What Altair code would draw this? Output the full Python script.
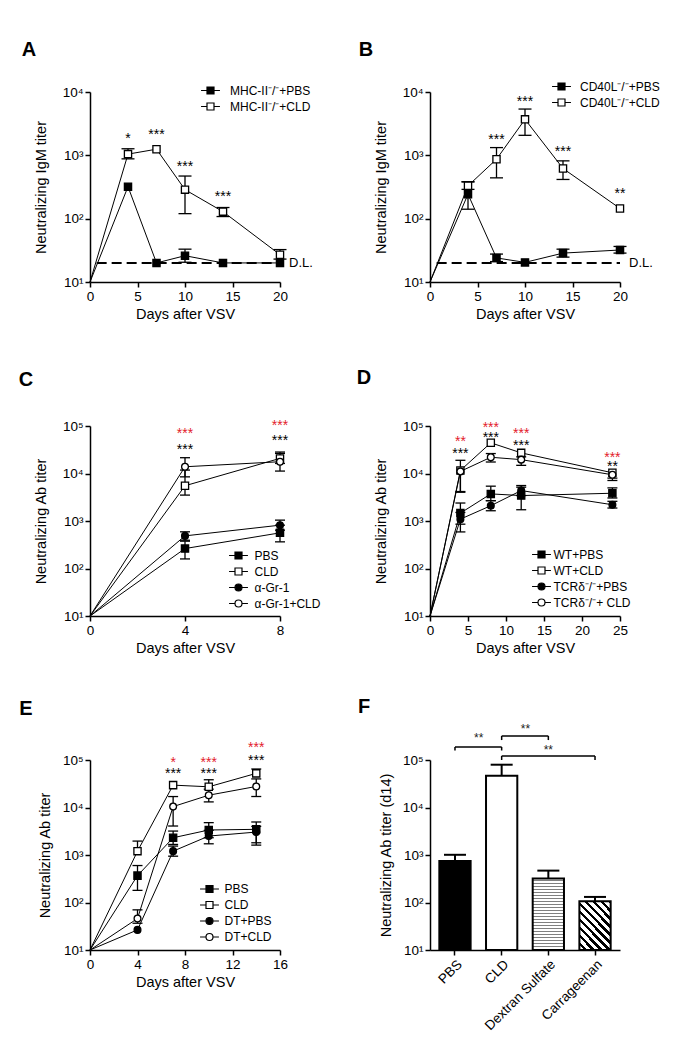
import altair as alt
import pandas as pd

FONT = "Liberation Sans"
RED = "#e3202c"
SQ_PATH = "M-2.7,0L-1,0M1,0L2.7,0M-1,-1L1,-1L1,1L-1,1Z"
CI_PATH = "M-2.7,0L-1,0M1,0L2.7,0M1,0A1,1,0,1,1,-1,0A1,1,0,1,1,1,0Z"
LBL = "'10' + ['⁰','¹','²','³','⁴','⁵','⁶'][round(log(datum.value)/LN10)]"

# ---------------- Panel A ----------------
A_days = [0, 4, 7, 10, 14, 20]
A_pbs = [10, 320, 20, 26, 20, 20]
A_pbs_hi = [None, None, None, 33, None, None]
A_pbs_lo = [None, None, None, 20.5, None, None]
A_cld = [10, 1045, 1250, 287, 129, 27]
A_cld_hi = [None, 1270, None, 471, 150, 32.5]
A_cld_lo = [None, 880, None, 120, 108, 23]
A_names = ["MHC-II⁻/⁻+PBS", "MHC-II⁻/⁻+CLD"]
A_star_day = [4, 7, 10, 14]
A_star_y = [2130, 2430, 745, 251]
A_star_txt = ["*", "***", "***", "***"]
A_star_col = ["black", "black", "black", "black"]

# ---------------- Panel B ----------------
B_days = [0, 4, 7, 10, 14, 20]
B_pbs = [10, 243, 24, 20.4, 28.6, 32]
B_pbs_hi = [None, 384, 27.6, None, 33, 36.4]
B_pbs_lo = [None, 141, 21, None, 24.7, 28.6]
B_cld = [10, 330, 869, 3700, 620, 145]
B_cld_hi = [None, 380, 1325, 5380, 818, None]
B_cld_lo = [None, 290, 441, 2070, 416, None]
B_names = ["CD40L⁻/⁻+PBS", "CD40L⁻/⁻+CLD"]
B_star_day = [7, 10, 14, 20]
B_star_y = [2023, 8110, 1309, 282]
B_star_txt = ["***", "***", "***", "**"]
B_star_col = ["black", "black", "black", "black"]

# ---------------- Panel C ----------------
C_days = [0, 4, 8]
C_pbs = [10, 263, 563]
C_pbs_hi = [None, 376, 817]
C_pbs_lo = [None, 159, 364]
C_cld = [10, 5520, 20800]
C_cld_hi = [None, 11800, 28300]
C_cld_lo = [None, 3510, 16300]
C_gr1 = [10, 486, 817]
C_gr1_hi = [None, 592, 1043]
C_gr1_lo = [None, 394, 641]
C_gr1cld = [10, 13870, 17700]
C_gr1cld_hi = [None, 21500, 26500]
C_gr1cld_lo = [None, 8500, 11250]
C_names = ["PBS", "CLD", "α-Gr-1", "α-Gr-1+CLD"]
C_star_day = [4, 4, 8, 8]
C_star_y = [82400, 37800, 123300, 57700]
C_star_txt = ["***", "***", "***", "***"]
C_star_col = [RED, "black", RED, "black"]

# ---------------- Panel D ----------------
D_days = [0, 4, 8, 12, 24]
D_wtpbs = [10, 1466, 3720, 3430, 3840]
D_wtpbs_hi = [None, 2390, 5410, 5150, 4980]
D_wtpbs_lo = [None, 589, 2680, 1726, 3050]
D_wtcld = [10, 11600, 44260, 27170, 10370]
D_wtcld_hi = [None, 18960, None, None, None]
D_wtcld_lo = [None, 4030, None, 22400, 8000]
D_tcrpbs = [10, 1094, 2100, 4375, 2200]
D_tcrpbs_hi = [None, 1514, 2680, 5580, 2596]
D_tcrpbs_lo = [None, 857, 1644, 3430, 1875]
D_tcrcld = [10, 11070, 21980, 19590, 9400]
D_tcrcld_hi = [None, None, 26300, None, None]
D_tcrcld_lo = [None, 4170, 17460, 14860, 7130]
D_names = ["WT+PBS", "WT+CLD", "TCRδ⁻/⁻+PBS", "TCRδ⁻/⁻+ CLD"]
D_star_day = [4, 4, 8, 8, 12, 12, 24, 24]
D_star_y = [54700, 31900, 110200, 66500, 82200, 46450, 26300, 16630]
D_star_txt = ["**", "***", "***", "***", "***", "***", "***", "**"]
D_star_col = [RED, "black", RED, "black", RED, "black", RED, "black"]

# ---------------- Panel E ----------------
E_days = [0, 4, 7, 10, 14]
E_pbs = [10, 368, 2307, 3360, 3470]
E_pbs_hi = [None, 600, 3190, 4800, 4955]
E_pbs_lo = [None, 180, 1667, 2310, 1808]
E_cld = [10, 1205, 29580, 27290, 52300]
E_cld_hi = [None, 1963, None, 38400, 64600]
E_cld_lo = [None, None, None, None, None]
E_dtpbs = [10, 26.5, 1205, 2506, 3040]
E_dtpbs_hi = [None, None, 1540, 3300, 4000]
E_dtpbs_lo = [None, None, 944, 1722, 1614]
E_dtcld = [10, 46, 10450, 18150, 27750]
E_dtcld_hi = [None, 70, 17000, 24300, 40000]
E_dtcld_lo = [None, 36.6, 4075, 13120, 17040]
E_names = ["PBS", "CLD", "DT+PBS", "DT+CLD"]
E_star_day = [7, 7, 10, 10, 14, 14]
E_star_y = [105000, 62400, 105000, 62400, 218000, 117500]
E_star_txt = ["*", "***", "***", "***", "***", "***"]
E_star_col = [RED, "black", RED, "black", RED, "black"]

# ---------------- Panel F ----------------
F_groups = ["PBS", "CLD", "Dextran Sulfate", "Carrageenan"]
F_vals = [752, 46450, 322, 106]
F_hi = [1010, 79600, 469, 131]
F_br_left = ["PBS", "CLD", "CLD"]
F_br_right = ["CLD", "Dextran Sulfate", "Carrageenan"]
F_br_top = [187900, 320000, 121300]
F_br_bot = [158500, 263000, 100000]
F_star_y = [335700, 520000, 188000]

KIND = {
    "fs": ("square", "black", SQ_PATH),
    "os": ("square", "white", SQ_PATH),
    "fc": ("circle", "black", CI_PATH),
    "oc": ("circle", "white", CI_PATH),
}


def letter_layer(letter, off):
    return alt.Chart(pd.DataFrame({"t": [letter]})).mark_text(
        font=FONT, fontSize=20, fontWeight="bold", align="center", baseline="middle", color="black"
    ).encode(text="t:N", x=alt.value(off[0]), y=alt.value(off[1]))


def line_panel(letter, loff, days, series, xdom, xvals, ydom, yvals, ytitle,
               leg, stars, cap=10, dl=False, tpad=14):
    rows = []
    for name, vals, hi, lo, kind in series:
        shp, fil, _ = KIND[kind]
        for d, v, h, l in zip(days, vals, hi, lo):
            rows.append({"series": name, "day": d, "val": v, "hi": h, "lo": l,
                         "shp": shp, "fil": fil, "sz": 52 if shp == "square" else 46})
    df = pd.DataFrame(rows)
    names = [s[0] for s in series]
    paths = [KIND[s[4]][2] for s in series]
    fills = [KIND[s[4]][1] for s in series]

    xs = alt.Scale(domain=xdom, nice=False, zero=False)
    ys = alt.Scale(type="log", domain=ydom, nice=False)
    xax = alt.Axis(values=xvals, title="Days after VSV", labelFlush=False, titlePadding=5)
    yax = alt.Axis(values=yvals, title=ytitle, labelExpr=LBL, labelFlush=False,
                   labelOverlap=False, titlePadding=tpad)

    def X(f="day"):
        return alt.X(f + ":Q", scale=xs, axis=xax)

    def Y(f):
        return alt.Y(f + ":Q", scale=ys, axis=yax)

    base = alt.Chart(df)
    lines = base.mark_line(color="black", strokeWidth=1).encode(
        x=X(), y=Y("val"), detail="series:N", order="day:Q")
    err = base.transform_filter("isValid(datum.hi) || isValid(datum.lo)").transform_calculate(
        hi2="isValid(datum.hi) ? datum.hi : datum.val",
        lo2="isValid(datum.lo) ? datum.lo : datum.val",
    ).mark_rule(color="black", strokeWidth=1.3).encode(x=X(), y=Y("lo2"), y2=alt.Y2("hi2:Q"))
    cap_hi = base.transform_filter("isValid(datum.hi)").mark_tick(
        orient="horizontal", size=cap, thickness=1.3, color="black", opacity=1).encode(x=X(), y=Y("hi"))
    cap_lo = base.transform_filter("isValid(datum.lo)").mark_tick(
        orient="horizontal", size=cap, thickness=1.3, color="black", opacity=1).encode(x=X(), y=Y("lo"))
    pts = base.transform_filter("datum.day > 0").mark_point(
        filled=True, stroke="black", strokeWidth=1.3, opacity=1).encode(
        x=X(), y=Y("val"),
        shape=alt.Shape("shp:N", scale=None),
        fill=alt.Fill("fil:N", scale=None),
        size=alt.Size("sz:Q", scale=None))
    LEG = alt.Legend(orient="none", legendX=leg[0], legendY=leg[1], title=None,
                     labelFont=FONT, labelFontSize=12, labelColor="black",
                     symbolSize=49, symbolStrokeColor="black", symbolStrokeWidth=1.2,
                     rowPadding=leg[3], padding=0, labelOffset=leg[2])
    legend = base.transform_filter("false").mark_point(
        filled=True, stroke="black", strokeWidth=1.2, opacity=1).encode(
        x=X(), y=Y("val"),
        shape=alt.Shape("series:N", scale=alt.Scale(domain=names, range=paths), legend=LEG),
        fill=alt.Fill("series:N", scale=alt.Scale(domain=names, range=fills), legend=LEG))
    sdf = pd.DataFrame({"day": stars[0], "y": stars[1], "t": stars[2], "col": stars[3]})
    st = alt.Chart(sdf).mark_text(font=FONT, fontSize=14, baseline="alphabetic", dy=8,
                                  align="center").encode(
        x=X(), y=Y("y"), text="t:N", color=alt.Color("col:N", scale=None))
    layers = [lines, err, cap_hi, cap_lo, pts, legend, st, letter_layer(letter, loff)]
    if dl:
        dldf = pd.DataFrame({"x1": [0.7], "x2": [xdom[1]], "y": [20], "t": ["D.L."]})
        dline = alt.Chart(dldf).mark_rule(color="black", strokeWidth=2, strokeDash=[10, 5]).encode(
            x=X("x1"), x2="x2:Q", y=Y("y"))
        dtxt = alt.Chart(dldf).mark_text(font=FONT, fontSize=13, align="left", baseline="middle",
                                         dx=9, color="black").encode(x=X("x2"), y=Y("y"), text="t:N")
        layers = [dline, dtxt] + layers
    return alt.layer(*layers).properties(width=190, height=190)


A = line_panel("A", (-61, -42), A_days,
               [(A_names[0], A_pbs, A_pbs_hi, A_pbs_lo, "fs"),
                (A_names[1], A_cld, A_cld_hi, A_cld_lo, "os")],
               [0, 20], [0, 5, 10, 15, 20], [10, 10000], [10, 100, 1000, 10000],
               "Neutralizing IgM titer", (114.5, -7.5, 13.5, 4),
               (A_star_day, A_star_y, A_star_txt, A_star_col), cap=13, dl=True)
B = line_panel("B", (-64, -42), B_days,
               [(B_names[0], B_pbs, B_pbs_hi, B_pbs_lo, "fs"),
                (B_names[1], B_cld, B_cld_hi, B_cld_lo, "os")],
               [0, 20], [0, 5, 10, 15, 20], [10, 10000], [10, 100, 1000, 10000],
               "Neutralizing IgM titer", (125.5, -11.5, 12.5, 4),
               (B_star_day, B_star_y, B_star_txt, B_star_col), cap=13, dl=True)
C = line_panel("C", (-64, -46), C_days,
               [(C_names[0], C_pbs, C_pbs_hi, C_pbs_lo, "fs"),
                (C_names[1], C_cld, C_cld_hi, C_cld_lo, "os"),
                (C_names[2], C_gr1, C_gr1_hi, C_gr1_lo, "fc"),
                (C_names[3], C_gr1cld, C_gr1cld_hi, C_gr1cld_lo, "oc")],
               [0, 8], [0, 4, 8], [10, 100000], [10, 100, 1000, 10000, 100000],
               "Neutralizing Ab titer", (142.5, 123.5, 10, 4),
               (C_star_day, C_star_y, C_star_txt, C_star_col), cap=10)
D = line_panel("D", (-66, -48), D_days,
               [(D_names[0], D_wtpbs, D_wtpbs_hi, D_wtpbs_lo, "fs"),
                (D_names[1], D_wtcld, D_wtcld_hi, D_wtcld_lo, "os"),
                (D_names[2], D_tcrpbs, D_tcrpbs_hi, D_tcrpbs_lo, "fc"),
                (D_names[3], D_tcrcld, D_tcrcld_hi, D_tcrcld_lo, "oc")],
               [0, 25], [0, 5, 10, 15, 20, 25], [10, 100000], [10, 100, 1000, 10000, 100000],
               "Neutralizing Ab titer", (105.5, 122.5, 6, 4),
               (D_star_day, D_star_y, D_star_txt, D_star_col), cap=10)
E = line_panel("E", (-64, -51), E_days,
               [(E_names[0], E_pbs, E_pbs_hi, E_pbs_lo, "fs"),
                (E_names[1], E_cld, E_cld_hi, E_cld_lo, "os"),
                (E_names[2], E_dtpbs, E_dtpbs_hi, E_dtpbs_lo, "fc"),
                (E_names[3], E_dtcld, E_dtcld_hi, E_dtcld_lo, "oc")],
               [0, 16], [0, 4, 8, 12, 16], [10, 100000], [10, 100, 1000, 10000, 100000],
               "Neutralizing Ab titer", (113.5, 123, 9, 4),
               (E_star_day, E_star_y, E_star_txt, E_star_col), cap=10, tpad=10)


def stripe_stops(n, frac, c_bg, c_line):
    stops = []
    for i in range(n):
        o = i / n
        m = (i + 1 - frac) / n
        e = (i + 1) / n
        stops += [alt.GradientStop(offset=round(o, 5), color=c_bg),
                  alt.GradientStop(offset=round(m, 5), color=c_bg),
                  alt.GradientStop(offset=round(m, 5), color=c_line),
                  alt.GradientStop(offset=round(e, 5), color=c_line)]
    return stops


grad_h = alt.LinearGradient(gradient="linear", stops=stripe_stops(24, 0.4, "white", "#808080"),
                            x1=0, y1=0, x2=0, y2=1)
grad_d = alt.LinearGradient(gradient="linear", stops=stripe_stops(10, 0.42, "white", "black"),
                            x1=0, y1=1, x2=0.754, y2=-0.16)

fdf = pd.DataFrame({"g": F_groups, "val": F_vals, "hi": F_hi, "base": [10] * 4,
                    "fil": ["black", "white", "white", "white"]})
fxs = alt.Scale(domain=F_groups, paddingInner=0.33, paddingOuter=0.2)
fys = alt.Scale(type="log", domain=[10, 100000], nice=False)
fxax = alt.Axis(title=None, labelAngle=-45, labelPadding=2, labelFontSize=13.5)
fyax = alt.Axis(values=[10, 100, 1000, 10000, 100000], title="Neutralizing Ab titer (d14)",
                labelExpr=LBL, labelFlush=False, labelOverlap=False, titlePadding=9)


def FX(f="g"):
    return alt.X(f + ":N", scale=fxs, axis=fxax)


def FY(f):
    return alt.Y(f + ":Q", scale=fys, axis=fyax)


fbase = alt.Chart(fdf)
bars1 = fbase.transform_filter("datum.g == 'PBS' || datum.g == 'CLD'").mark_bar(
    stroke="black", strokeWidth=2).encode(x=FX(), y=FY("val"), y2="base:Q",
                                          fill=alt.Fill("fil:N", scale=None))
bars2 = fbase.transform_filter("datum.g == 'Dextran Sulfate'").mark_bar(
    stroke="black", strokeWidth=2, fill=grad_h).encode(x=FX(), y=FY("val"), y2="base:Q")
bars3 = fbase.transform_filter("datum.g == 'Carrageenan'").mark_bar(
    stroke="black", strokeWidth=2, fill=grad_d).encode(x=FX(), y=FY("val"), y2="base:Q")
ferr = fbase.mark_rule(color="black", strokeWidth=2).encode(x=FX(), y=FY("val"), y2="hi:Q")
fcap = fbase.mark_tick(orient="horizontal", size=22, thickness=2, color="black", opacity=1).encode(
    x=FX(), y=FY("hi"))
brdf = pd.DataFrame({"g1": F_br_left, "g2": F_br_right, "top": F_br_top, "bot": F_br_bot})
brb = alt.Chart(brdf)
br_h = brb.mark_rule(color="black", strokeWidth=1.5).encode(x=FX("g1"), x2="g2:N", y=FY("top"))
br_l = brb.mark_rule(color="black", strokeWidth=1.5).encode(x=FX("g1"), y=FY("top"), y2="bot:Q")
br_r = brb.mark_rule(color="black", strokeWidth=1.5).encode(x=FX("g2"), y=FY("top"), y2="bot:Q")
fstars = []
for g, yv, dx in zip(["PBS", "CLD", "Dextran Sulfate"], F_star_y, [23.75, 23.75, 0]):
    sd = pd.DataFrame({"g": [g], "y": [yv], "t": ["**"]})
    fstars.append(alt.Chart(sd).mark_text(font=FONT, fontSize=12, color="#222222", baseline="alphabetic",
                                          dy=7, dx=dx, align="center").encode(
        x=FX(), y=FY("y"), text="t:N"))
F = alt.layer(bars1, bars2, bars3, ferr, fcap, br_h, br_l, br_r, *fstars,
              letter_layer("F", (-66, -53))).properties(width=190, height=190)

chart = alt.concat(A, B, C, D, E, F, columns=2, spacing={"row": 144, "column": 150},
                   bounds="flush").resolve_scale(
    shape="independent", fill="independent", x="independent", y="independent"
).resolve_legend(shape="independent", fill="independent").properties(
    padding={"left": 10, "top": 32, "right": 5, "bottom": 5},
    background="white",
).configure_axis(
    domainColor="black", domainWidth=1.5, tickColor="black", tickWidth=1.5, tickSize=5,
    labelFont=FONT, labelFontSize=13.5, labelColor="black", labelPadding=2,
    titleFont=FONT, titleFontSize=14.5, titleFontWeight="normal", titleColor="black", grid=False,
).configure_view(stroke=None)

chart.save("out.html", embed_options={"renderer": "svg", "actions": False})
